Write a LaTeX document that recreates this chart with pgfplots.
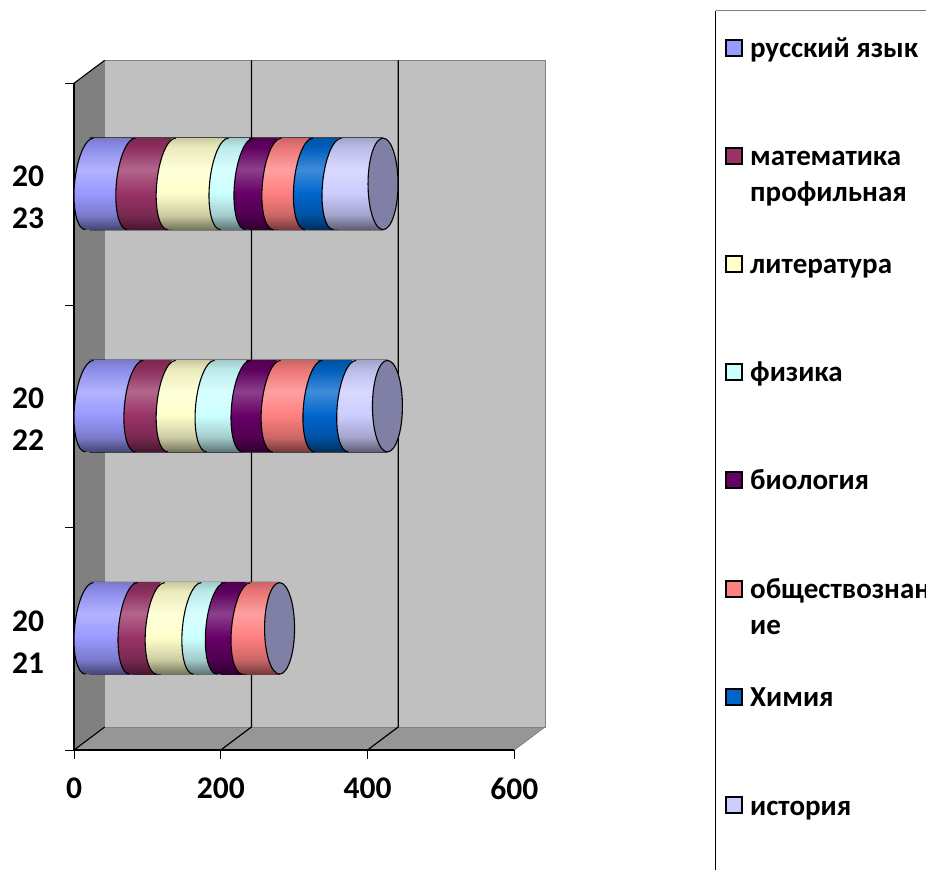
\documentclass[border=0pt]{standalone}
\usepackage{pgfplots}
\usepackage{pgfplotstable}
\usepackage{fontspec}
\setmainfont{Carlito}
\pgfplotsset{compat=1.18}

\definecolor{c1}{HTML}{9999FF}
\definecolor{c2}{HTML}{993366}
\definecolor{c3}{HTML}{FFFFCC}
\definecolor{c4}{HTML}{CCFFFF}
\definecolor{c5}{HTML}{660066}
\definecolor{c6}{HTML}{FF8080}
\definecolor{c7}{HTML}{0066CC}
\definecolor{c8}{HTML}{CCCCFF}
\definecolor{capc}{HTML}{8080A6}
\definecolor{wallback}{HTML}{C0C0C0}
\definecolor{wallleft}{HTML}{808080}
\definecolor{wallfloor}{HTML}{969696}

% values, pos 0.5 = 2021
% s0 zero start, s1 rus, s2 mat, s3 lit, s4 fiz, s5 bio, s6 obs, s7 him, s8 ist
\pgfplotstableread{
pos s0 s1 s2 s3 s4 s5 s6 s7 s8
0.5 0 60 37 50 32 35 45 0 0
1.5 0 68 44 53 49 41 57 46 48
2.5 0 57 55 72 34 38 43 39 62
}\marks
\pgfplotstableread{
pos total
0.5 259
1.5 406
2.5 400
}\totals

% left half of a slightly tilted ellipse, written out so no slant touches the shading
\def\halfcyl{(3.98pt,45.75pt) .. controls (-4.3pt,45.75pt) and (-12.8pt,25.27pt) .. (-15pt,0pt)
  .. controls (-17.2pt,-25.27pt) and (-12.26pt,-45.75pt) .. (-3.98pt,-45.75pt)}
% one shading per colour, and the mark that opens that colour after the section before it
\newcommand{\cylcolor}[2]{%
  \pgfdeclareverticalshading{cyl#1}{100bp}{%
    color(0bp)=(c#1!45!black);
    color(25bp)=(c#1!45!black);
    color(33bp)=(c#1!80!black);
    color(45bp)=(c#1);
    color(58bp)=(c#1!75!white);
    color(70bp)=(c#1!92!black);
    color(75bp)=(c#1!80!black);
    color(100bp)=(c#1!80!black)}%
  \pgfdeclareplotmark{after#2}{%
    \shade[shading=cyl#1,draw=none] \halfcyl -- (0pt,-45.75pt) -- cycle;
    \draw[black,line width=1.1pt] \halfcyl;}%
}
\cylcolor{1}{0}\cylcolor{2}{1}\cylcolor{3}{2}\cylcolor{4}{3}
\cylcolor{5}{4}\cylcolor{6}{5}\cylcolor{7}{6}\cylcolor{8}{7}
\pgfdeclareplotmark{cap}{%
  \draw[black,line width=1.1pt,fill=capc,xslant=0.087] (0pt,0pt) ellipse[x radius=15pt,y radius=45.75pt];}

\pgfplotsset{
  overlay axis/.style={
    scale only axis, width=440.3pt, height=666.7pt,
    at={(89.5pt,130.5pt)},
    xmin=0, xmax=600, ymin=0, ymax=3,
    hide axis, clip=false,
  },
}
% a shading spreads over all bars of one plot, so each year gets its own axis
% args: y range of the year, number of sections, number of sections minus one
\newcommand{\cylbody}[4]{%
  \begin{axis}[overlay axis, xbar stacked, bar width=91.5pt, reverse stacked plots=false,
    restrict y to domain=#1:#2]
  \pgfplotsinvokeforeach{1,...,#3}{%
    \addplot[shading=cyl##1,draw=none] table[x=s##1,y=pos] {\marks};}
  \end{axis}
  \begin{axis}[overlay axis, stack plots=x, reverse stacked plots=false,
    restrict y to domain=#1:#2]
  \pgfplotsinvokeforeach{0,...,#4}{%
    \addplot[only marks,mark=after##1] table[x=s##1,y=pos] {\marks};}
  \addplot[only marks,mark=cap] table[x=s#3,y=pos] {\marks};
  \end{axis}}
\newcommand{\legendentry}[4]{%
  \draw[black,line width=2.2pt,fill=#1] (726.2pt,870pt-#2pt-7.8pt) rectangle ++(15.4pt,15.4pt);
  \node[anchor=base west,inner sep=0pt,font=\fontsize{29}{36}\selectfont\bfseries] at (750pt,870pt-#2pt-10pt) {#3};
  \node[anchor=base west,inner sep=0pt,font=\fontsize{29}{36}\selectfont\bfseries] at (750pt,870pt-#2pt-46pt) {#4};}

\begin{document}
\begin{tikzpicture}[x=1pt,y=1pt]
\useasboundingbox (0,0) rectangle (926,870);

% walls, axis lines and ticks
\begin{axis}[
  scale only axis, width=440.3pt, height=666.7pt,
  at={(74pt,120pt)},
  xmin=0, xmax=600, ymin=0, ymax=3,
  clip=false, axis on top,
  axis x line*=bottom, axis y line*=left,
  axis line style={black,line width=1.2pt,-},
  xtick={0,200,400,600},
  ytick={0.5,1.5,2.5},
  yticklabels={{20\\21},{20\\22},{20\\23}},
  minor ytick={0,1,2,3},
  major tick length=9pt, minor tick length=9pt,
  tick align=outside,
  major x tick style={draw=black,line width=0.8pt},
  major y tick style={draw=none},
  minor y tick style={draw=black,line width=0.8pt},
  /pgf/number format/assume math mode=true,
  ticklabel style={font=\fontsize{31.5}{42}\selectfont\bfseries},
  xticklabel style={yshift=-15pt},
  yticklabel style={anchor=center,align=center,xshift=-37pt,yshift=-3pt},
]
\fill[wallleft] (axis cs:0,0) -- ++(30.7pt,23pt) -- ([shift={(30.7pt,23pt)}]axis cs:0,3) -- (axis cs:0,3) -- cycle;
\fill[wallfloor] (axis cs:0,0) -- ++(30.7pt,23pt) -- ([shift={(30.7pt,23pt)}]axis cs:600,0) -- (axis cs:600,0) -- cycle;
\filldraw[fill=wallback,draw=gray,line width=0.8pt] ([shift={(30.7pt,23pt)}]axis cs:0,0) rectangle ([shift={(30.7pt,23pt)}]axis cs:600,3);
\draw[black,line width=1.1pt] (axis cs:0,3) -- ++(30.7pt,23pt);
\draw[black,line width=1.1pt] (axis cs:0,0) -- ++(30.7pt,23pt);
\draw[gray,line width=0.8pt] (axis cs:600,0) -- ++(30.7pt,23pt);
\draw[black,line width=1.2pt] (axis cs:200,0) -- ++(30.7pt,23pt) -- ([shift={(30.7pt,23pt)}]axis cs:200,3);
\draw[black,line width=1.2pt] (axis cs:400,0) -- ++(30.7pt,23pt) -- ([shift={(30.7pt,23pt)}]axis cs:400,3);
\end{axis}

% black backing gives the top and bottom outline of the cylinders
\begin{axis}[overlay axis, xbar, bar width=93pt]
\addplot[fill=black,draw=none,bar shift=0pt] table[x=total,y=pos] {\totals};
\end{axis}

% cylinders, one year at a time
\cylbody{0}{1}{6}{5}
\cylbody{1}{2}{8}{7}
\cylbody{2}{3}{8}{7}

% legend frame, cut off by the page as in the original
\draw[black,line width=1.2pt] (715.5,0) -- (715.5,859.3);
\draw[gray,line width=1pt] (715.5,859.3) -- (926,859.3);
\legendentry{c1}{48}{русский язык}{}
\legendentry{c2}{156}{математика}{профильная}
\legendentry{c3}{264}{литература}{}
\legendentry{c4}{372}{физика}{}
\legendentry{c5}{480}{биология}{}
\legendentry{c6}{589}{обществознан}{ие}
\legendentry{c7}{697}{Химия}{}
\legendentry{c8}{805}{история}{}
\end{tikzpicture}
\end{document}
